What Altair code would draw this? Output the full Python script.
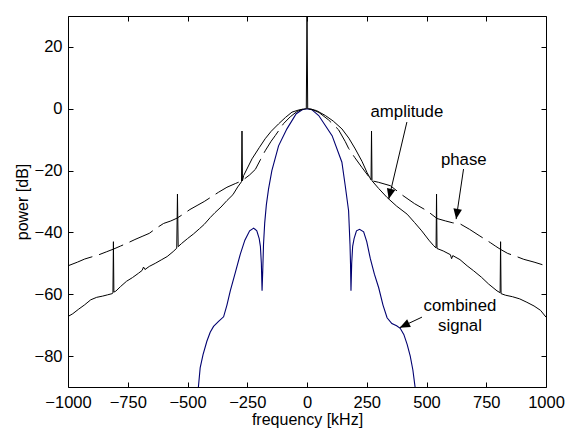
import altair as alt
import pandas as pd

FONT = "Liberation Sans"

# ---- data ----
amp_x = [-1000, -980, -955, -930, -905, -880, -855, -835, -815, -812, -810, -808, -800, -780, -755, -730,
         -705, -690, -684, -678, -660, -635, -610, -585, -560, -545, -542, -539, -525, -500, -475, -450,
         -430, -405, -385, -360, -335, -310, -290, -274, -272, -270, -265, -230, -200, -175, -150, -119,
         -90, -63, -35, -15, -3, 0, 3, 15, 40, 77, 110, 146, 175, 202, 230, 251, 268, 270, 272, 300, 335,
         375, 419, 450, 480, 510, 530, 540, 542, 544, 570, 600, 605, 610, 640, 670, 697, 730, 760, 795,
         808, 810, 812, 830, 860, 890, 920, 950, 977, 1000]
amp_y = [-67.2, -66.3, -64.8, -63.4, -61.8, -61.0, -60.6, -60.2, -59.8, -59.6, -43.0, -59.3, -59.0, -57.5,
         -55.8, -54.6, -53.2, -52.3, -51.2, -52.0, -51.0, -50.0, -48.9, -47.8, -46.2, -45.1, -27.6, -44.6,
         -43.6, -42.0, -40.5, -38.8, -37.4, -35.2, -33.6, -31.8, -29.7, -27.8, -25.3, -23.6, -7.2, -23.3,
         -21.6, -16.2, -12.6, -9.7, -7.3, -4.9, -2.8, -1.1, -0.4, -0.1, 0.0, 30.0, 0.0, -0.1, -0.6, -2.2,
         -4.0, -6.5, -9.5, -13.0, -17.0, -20.6, -23.0, -7.2, -23.3, -25.8, -28.7, -31.5, -34.1, -36.8,
         -39.5, -42.5, -44.3, -45.0, -27.6, -45.2, -46.0, -47.2, -48.5, -47.5, -48.8, -50.8, -52.4, -54.5,
         -56.7, -58.9, -59.5, -43.0, -59.8, -60.3, -60.8, -61.5, -62.6, -63.8, -65.2, -67.4]

ph_x = [-1000, -960, -930, -900, -870, -840, -810, -780, -750, -720, -690, -660, -630, -600, -570, -544,
        -520, -490, -460, -430, -400, -370, -335, -300, -272, -240, -216, -195, -175, -150, -133, -98,
        -70, -42, -20, 0, 20, 50, 90, 132, 160, 174, 200, 230, 258, 272, 300, 349, 400, 450, 502, 544,
        580, 610, 642, 680, 720, 767, 790, 810, 840, 870, 907, 950, 1000]
ph_y = [-50.8, -49.6, -48.6, -47.9, -47.2, -46.3, -45.4, -44.4, -43.4, -42.3, -41.3, -40.3, -38.6, -37.1,
        -36.3, -35.4, -34.2, -32.6, -31.3, -30.0, -28.5, -27.0, -25.4, -24.2, -23.3, -21.4, -19.6, -16.5,
        -13.6, -10.5, -8.7, -4.8, -2.6, -0.9, -0.2, 0.0, -0.2, -1.2, -3.6, -6.8, -10.6, -12.8, -15.8,
        -19.0, -21.9, -23.3, -23.8, -24.9, -28.0, -30.7, -33.0, -35.5, -36.3, -36.9, -37.3, -39.0, -41.0,
        -43.3, -44.5, -45.5, -46.8, -47.6, -48.7, -49.6, -50.8]

comb_x = [-455, -447, -435, -419, -405, -391, -370, -349, -335, -321, -300, -279, -260, -240, -223, -210,
          -200, -195, -191, -188, -185, -182, -177, -170, -161, -147, -119, -84, -45, -20, 0, 20, 49, 105,
          146, 160, 174, 180, 182, 184, 187, 191, 197, 207, 220, 237, 250, 265, 282, 300, 318, 335, 355,
          375, 390, 405, 419, 432, 443, 453]
comb_y = [-90.5, -83.8, -79.5, -75.2, -72.3, -70.4, -68.8, -67.3, -63.5, -58.9, -53.0, -47.0, -42.5, -39.5,
          -38.6, -39.5, -42.0, -44.5, -50.0, -58.9, -52.0, -44.0, -37.0, -31.0, -26.0, -20.0, -12.0, -6.5,
          -1.6, -0.3, 0.0, -0.3, -2.2, -8.7, -17.3, -24.9, -33.0, -44.0, -50.0, -58.9, -50.0, -44.5, -42.0,
          -39.5, -39.0, -39.8, -43.0, -48.5, -53.5, -57.9, -63.5, -67.6, -69.5, -70.2, -71.0, -73.0, -76.2,
          -80.0, -84.5, -90.5]

x_ticks = [-1000, -750, -500, -250, 0, 250, 500, 750, 1000]
y_ticks = [-80, -60, -40, -20, 0, 20]

labels = ["amplitude", "phase", "combined", "signal"]
label_x = [418, 656, 640, 640]
label_y = [-0.9, -16.5, -63.8, -70.3]

arrow_x = [418, 655, 481]
arrow_y = [-4.3, -19.5, -67.4]
arrow_tx = [342, 624, 388]
arrow_ty = [-29.2, -35.7, -70.8]
arrow_angle = [193.5, 188.6, 244.5]

# ---- frames ----
amp = pd.DataFrame({"x": amp_x, "y": amp_y, "i": range(len(amp_x))})
ph = pd.DataFrame({"x": ph_x, "y": ph_y, "i": range(len(ph_x))})
comb = pd.DataFrame({"x": comb_x, "y": comb_y, "i": range(len(comb_x))})
lab = pd.DataFrame({"t": labels, "x": label_x, "y": label_y})

xs = alt.Scale(domain=[-1000, 1000], nice=False, zero=False)
ys = alt.Scale(domain=[-90, 30], nice=False, zero=False)

common_axis = dict(offset=-5, tickSize=5, domain=False, grid=False, tickColor="black",
                   tickWidth=1, labelFont=FONT, labelFontSize=16.5, labelColor="black",
                   titleFont=FONT, titleFontSize=16, titleColor="black", titleFontWeight="normal",
                   format="d")

ax_bottom = alt.Axis(orient="bottom", values=x_ticks, title="frequency [kHz]", labelPadding=7,
                     titlePadding=1, labelFlush=False, **common_axis)
ax_left = alt.Axis(orient="left", values=y_ticks, title="power [dB]", labelPadding=6,
                   titlePadding=4, **common_axis)
ax_top = alt.Axis(orient="top", values=x_ticks, title=None, labels=False, **common_axis)
ax_right = alt.Axis(orient="right", values=y_ticks, title=None, labels=False, **common_axis)


def X(f="x", axis=None):
    return alt.X(f + ":Q", scale=xs, axis=axis)


def Y(f="y", axis=None):
    return alt.Y(f + ":Q", scale=ys, axis=axis)


amp_line = alt.Chart(amp).mark_line(color="black", strokeWidth=1, clip=True).encode(
    x=X(axis=ax_bottom), y=Y(axis=ax_left), order="i:O")
ph_line = alt.Chart(ph).mark_line(color="black", strokeWidth=1, strokeDash=[26, 7], clip=True).encode(
    x=X(axis=ax_top), y=Y(axis=ax_right), order="i:O")
comb_line = alt.Chart(comb).mark_line(color="#000070", strokeWidth=1.1, clip=True).encode(
    x=X(), y=Y(), order="i:O")

texts = alt.Chart(lab).mark_text(font=FONT, fontSize=16.8, color="black", align="center",
                                 baseline="middle").encode(x=X(), y=Y(), text="t:N")

layers = [comb_line, amp_line, ph_line, texts]

arrow_path = "M0,0 L-0.42,1 L0.42,1 Z"
for ax0, ay0, tx, ty, ang in zip(arrow_x, arrow_y, arrow_tx, arrow_ty, arrow_angle):
    d = pd.DataFrame({"x": [ax0], "y": [ay0], "x2": [tx], "y2": [ty]})
    shaft = alt.Chart(d).mark_rule(color="black", strokeWidth=1).encode(
        x=X(), y=Y(), x2="x2:Q", y2="y2:Q")
    head = alt.Chart(d).mark_point(shape=arrow_path, filled=True, color="black", opacity=1,
                                   size=420, strokeWidth=0).encode(
        x=X("x2"), y=Y("y2"), angle=alt.value(ang))
    layers += [shaft, head]

chart = alt.layer(*layers).resolve_axis(x="independent", y="independent").properties(
    width=478, height=371,
    padding={"left": 68, "top": 16, "right": 25, "bottom": 43},
    autosize=alt.AutoSizeParams(type="none"),
    background="white",
).configure_view(stroke="black", strokeWidth=1)

chart.save("out.html", embed_options={"renderer": "svg", "actions": False})
